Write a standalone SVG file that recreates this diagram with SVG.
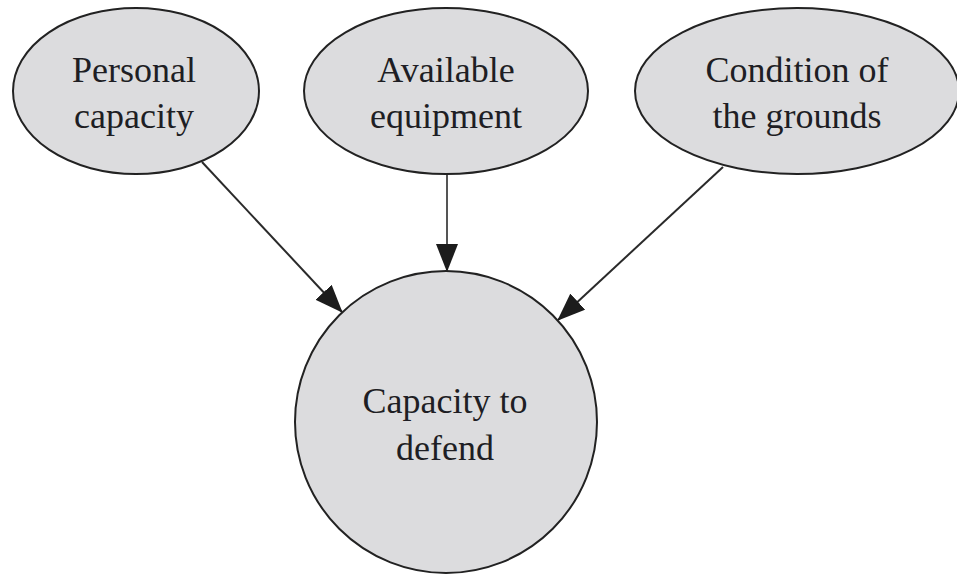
<svg xmlns="http://www.w3.org/2000/svg" width="957" height="575" viewBox="0 0 957 575">
  <defs>
    <marker id="arrow" markerUnits="userSpaceOnUse" markerWidth="28" markerHeight="22" refX="27" refY="11" orient="auto">
      <path d="M0,0 L28,11 L0,22 z" fill="#1c1c1c"/>
    </marker>
    <style>
      .node { fill: #dcdcde; stroke: #222; stroke-width: 2; }
      .label { font-family: "Liberation Serif", "Times New Roman", serif; font-size: 36px; fill: #1e1e24; text-anchor: middle; }
      .edge { stroke: #2a2a2a; stroke-width: 2; fill: none; marker-end: url(#arrow); }
    </style>
  </defs>
  <rect width="957" height="575" fill="#ffffff"/>

  <g id="connectors">
    <line class="edge" x1="202" y1="162" x2="342" y2="312"/>
    <line class="edge" x1="447" y1="175" x2="447" y2="271" style="stroke:#555"/>
    <line class="edge" x1="723" y1="167" x2="558" y2="320"/>
  </g>

  <g id="personal-capacity">
    <ellipse class="node" cx="136" cy="91" rx="123" ry="83"/>
    <text class="label" x="134" y="82">Personal</text>
    <text class="label" x="134" y="128">capacity</text>
  </g>

  <g id="available-equipment">
    <ellipse class="node" cx="446" cy="91" rx="142" ry="83"/>
    <text class="label" x="446" y="82">Available</text>
    <text class="label" x="446" y="128">equipment</text>
  </g>

  <g id="condition-of-grounds">
    <ellipse class="node" cx="797" cy="91" rx="162" ry="83"/>
    <text class="label" x="797" y="82">Condition of</text>
    <text class="label" x="797" y="128">the grounds</text>
  </g>

  <g id="capacity-to-defend">
    <circle class="node" cx="446" cy="422" r="151"/>
    <text class="label" x="445" y="413">Capacity to</text>
    <text class="label" x="445" y="460">defend</text>
  </g>
</svg>
